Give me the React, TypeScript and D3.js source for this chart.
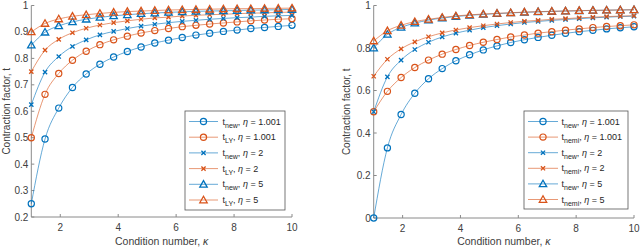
import React from 'react';
import * as d3 from 'd3';

// Condition number samples (marker positions)
const kappa = [1, 1.4737, 1.9474, 2.4211, 2.8947, 3.3684, 3.8421, 4.3158, 4.7895, 5.2632,
  5.7368, 6.2105, 6.6842, 7.1579, 7.6316, 8.1053, 8.5789, 9.0526, 9.5263, 10];

// Left panel
const leftNewEta1 = [0.25, 0.495, 0.612, 0.690, 0.741, 0.778, 0.805, 0.826, 0.843, 0.858, 0.869, 0.879, 0.888, 0.895, 0.902, 0.907, 0.913, 0.917, 0.921, 0.925];
const leftLYEta1 = [0.5, 0.664, 0.743, 0.793, 0.827, 0.852, 0.870, 0.884, 0.896, 0.905, 0.913, 0.920, 0.925, 0.930, 0.934, 0.938, 0.942, 0.945, 0.948, 0.95];
const leftNewEta2 = [0.625, 0.748, 0.807, 0.845, 0.870, 0.889, 0.902, 0.913, 0.922, 0.929, 0.935, 0.940, 0.944, 0.948, 0.951, 0.954, 0.956, 0.959, 0.961, 0.9625];
const leftLYEta2 = [0.75, 0.831, 0.872, 0.897, 0.914, 0.926, 0.935, 0.942, 0.948, 0.953, 0.956, 0.960, 0.963, 0.965, 0.967, 0.969, 0.971, 0.972, 0.974, 0.975];
const leftNewEta5 = [0.85, 0.899, 0.923, 0.938, 0.948, 0.955, 0.961, 0.965, 0.969, 0.9715, 0.974, 0.976, 0.978, 0.979, 0.980, 0.981, 0.9825, 0.983, 0.984, 0.985];
const leftLYEta5 = [0.9, 0.932, 0.949, 0.959, 0.965, 0.970, 0.974, 0.977, 0.979, 0.981, 0.983, 0.984, 0.985, 0.986, 0.987, 0.988, 0.988, 0.989, 0.9895, 0.99];

// Right panel
const rightNewEta1 = [0, 0.33, 0.487, 0.587, 0.655, 0.703, 0.740, 0.768, 0.791, 0.810, 0.826, 0.839, 0.850, 0.860, 0.869, 0.877, 0.883, 0.890, 0.895, 0.9];
const rightNemiEta1 = [0.5, 0.596, 0.661, 0.708, 0.743, 0.771, 0.793, 0.812, 0.827, 0.840, 0.852, 0.861, 0.870, 0.877, 0.884, 0.890, 0.896, 0.901, 0.905, 0.909];
const rightNewEta2 = [0.5, 0.664, 0.743, 0.793, 0.827, 0.852, 0.870, 0.884, 0.896, 0.905, 0.913, 0.920, 0.925, 0.930, 0.934, 0.938, 0.942, 0.945, 0.948, 0.95];
const rightNemiEta2 = [0.667, 0.747, 0.796, 0.829, 0.853, 0.871, 0.885, 0.896, 0.905, 0.913, 0.920, 0.926, 0.930, 0.935, 0.938, 0.942, 0.945, 0.948, 0.950, 0.952];
const rightNewEta5 = [0.8, 0.864, 0.897, 0.917, 0.931, 0.941, 0.948, 0.954, 0.958, 0.962, 0.965, 0.968, 0.970, 0.972, 0.974, 0.975, 0.977, 0.978, 0.979, 0.98];
const rightNemiEta5 = [0.833, 0.881, 0.907, 0.924, 0.935, 0.944, 0.951, 0.956, 0.960, 0.963, 0.966, 0.969, 0.971, 0.973, 0.974, 0.976, 0.977, 0.978, 0.979, 0.980];

const xTicks = [2, 4, 6, 8, 10];
const leftYTicks = [0.2, 0.3, 0.4, 0.5, 0.6, 0.7, 0.8, 0.9, 1];
const rightYTicks = [0, 0.2, 0.4, 0.6, 0.8, 1];
const etaLabels = ['1.001', '1.001', '2', '2', '5', '5'];
const xLabel = 'Condition number, ';
const yLabel = 'Contraction factor, t';

const BLUE = '#0072BD';
const ORANGE = '#D95319';
const FONT = 'Liberation Sans, Arial, Helvetica, sans-serif';

type MarkerType = 'o' | 'x' | '^';
type Series = { values: number[]; color: string; marker: MarkerType; sub: string; eta: string };

function Marker({ type, x, y, color }: { type: MarkerType; x: number; y: number; color: string }) {
  if (type === 'o') return <circle cx={x} cy={y} r={3.1} fill="none" stroke={color} strokeWidth={1.2} />;
  if (type === 'x') {
    const s = 2.1;
    return (
      <path d={`M${x - s},${y - s}L${x + s},${y + s}M${x - s},${y + s}L${x + s},${y - s}`} stroke={color} strokeWidth={1.3} />
    );
  }
  const s = 3.7;
  return (
    <path d={`M${x},${y - s}L${x + s},${y + s * 0.75}L${x - s},${y + s * 0.75}Z`} fill="none" stroke={color} strokeWidth={1.3} strokeLinejoin="miter" />
  );
}

type PanelProps = {
  xRange: [number, number];
  yRange: [number, number];
  yDomain: [number, number];
  yTicks: number[];
  series: Series[];
  legendBox: [number, number, number, number];
  legendLine: [number, number];
  legendText: number;
  legendRow0: number;
  legendRowStep: number;
  yLabelX: number;
};

function Panel(p: PanelProps) {
  const x = d3.scaleLinear().domain([1, 10]).range(p.xRange);
  const y = d3.scaleLinear().domain(p.yDomain).range(p.yRange);
  const line = d3.line<number>().x((_, i) => x(kappa[i])).y((v) => y(v)).curve(d3.curveMonotoneX);
  const axisColor = '#8a8a8a';
  const tickColor = '#404040';
  const [bx, by, bw, bh] = p.legendBox;
  return (
    <g>
      <line x1={p.xRange[0]} x2={p.xRange[1]} y1={p.yRange[0]} y2={p.yRange[0]} stroke={axisColor} strokeWidth={1} />
      <line x1={p.xRange[0]} x2={p.xRange[0]} y1={p.yRange[0]} y2={p.yRange[1]} stroke={axisColor} strokeWidth={1} />
      {xTicks.map((t) => (
        <g key={'xt' + t}>
          <line x1={x(t)} x2={x(t)} y1={p.yRange[0]} y2={p.yRange[0] - 3} stroke={axisColor} />
          <text x={x(t)} y={p.yRange[0] + 14} textAnchor="middle" fontSize={10} fill={tickColor} fontFamily={FONT}>{t}</text>
        </g>
      ))}
      {p.yTicks.map((t) => (
        <g key={'yt' + t}>
          <line x1={p.xRange[0]} x2={p.xRange[0] + 3} y1={y(t)} y2={y(t)} stroke={axisColor} />
          <text x={p.xRange[0] - 3} y={y(t) + 3.5} textAnchor="end" fontSize={10} fill={tickColor} fontFamily={FONT}>{String(t)}</text>
        </g>
      ))}
      <text x={(p.xRange[0] + p.xRange[1]) / 2} y={245} textAnchor="middle" fontSize={10.5} fill={tickColor} fontFamily={FONT}>
        {xLabel}<tspan fontStyle="italic">κ</tspan>
      </text>
      <text transform={`translate(${p.yLabelX},${(p.yRange[0] + p.yRange[1]) / 2}) rotate(-90)`} textAnchor="middle" fontSize={10} fill={tickColor} fontFamily={FONT}>
        {yLabel}
      </text>
      {p.series.map((s, si) => (
        <g key={'s' + si}>
          <path d={line(s.values) || ''} fill="none" stroke={s.color} strokeOpacity={0.6} strokeWidth={1} />
          {s.values.map((v, i) => (
            <Marker key={i} type={s.marker} x={x(kappa[i])} y={y(v)} color={s.color} />
          ))}
        </g>
      ))}
      <rect x={bx} y={by} width={bw} height={bh} fill="white" stroke="#555" strokeWidth={0.8} />
      {p.series.map((s, si) => {
        const ry = p.legendRow0 + si * p.legendRowStep;
        const mx = (p.legendLine[0] + p.legendLine[1]) / 2;
        return (
          <g key={'lg' + si}>
            <line x1={p.legendLine[0]} x2={p.legendLine[1]} y1={ry} y2={ry} stroke={s.color} strokeOpacity={0.6} strokeWidth={1} />
            <Marker type={s.marker} x={mx} y={ry} color={s.color} />
            <text x={p.legendText} y={ry + 3} fontSize={9} fill="#262626" fontFamily={FONT}>
              t<tspan fontSize={7} dy={3}>{s.sub}</tspan><tspan dy={-3}>, </tspan><tspan fontStyle="italic">η</tspan> = {s.eta}
            </text>
          </g>
        );
      })}
    </g>
  );
}

export default function App() {
  const leftSeries: Series[] = [
    { values: leftNewEta1, color: BLUE, marker: 'o', sub: 'new', eta: etaLabels[0] },
    { values: leftLYEta1, color: ORANGE, marker: 'o', sub: 'LY', eta: etaLabels[1] },
    { values: leftNewEta2, color: BLUE, marker: 'x', sub: 'new', eta: etaLabels[2] },
    { values: leftLYEta2, color: ORANGE, marker: 'x', sub: 'LY', eta: etaLabels[3] },
    { values: leftNewEta5, color: BLUE, marker: '^', sub: 'new', eta: etaLabels[4] },
    { values: leftLYEta5, color: ORANGE, marker: '^', sub: 'LY', eta: etaLabels[5] },
  ];
  const rightSeries: Series[] = [
    { values: rightNewEta1, color: BLUE, marker: 'o', sub: 'new', eta: etaLabels[0] },
    { values: rightNemiEta1, color: ORANGE, marker: 'o', sub: 'nemi', eta: etaLabels[1] },
    { values: rightNewEta2, color: BLUE, marker: 'x', sub: 'new', eta: etaLabels[2] },
    { values: rightNemiEta2, color: ORANGE, marker: 'x', sub: 'nemi', eta: etaLabels[3] },
    { values: rightNewEta5, color: BLUE, marker: '^', sub: 'new', eta: etaLabels[4] },
    { values: rightNemiEta5, color: ORANGE, marker: '^', sub: 'nemi', eta: etaLabels[5] },
  ];
  return (
    <svg width={640} height={248} style={{ position: 'absolute', left: 0, top: 0, background: 'white' }}>
      <Panel
        xRange={[31.3, 292]}
        yRange={[217, 5.5]}
        yDomain={[0.2, 1]}
        yTicks={leftYTicks}
        series={leftSeries}
        legendBox={[185, 111, 100, 99]}
        legendLine={[189, 218]}
        legendText={222.5}
        legendRow0={121.5}
        legendRowStep={15.7}
        yLabelX={10}
      />
      <Panel
        xRange={[373.7, 634]}
        yRange={[218, 5.5]}
        yDomain={[0, 1]}
        yTicks={rightYTicks}
        series={rightSeries}
        legendBox={[524, 111, 104, 98]}
        legendLine={[528, 558]}
        legendText={561.5}
        legendRow0={121.5}
        legendRowStep={15.6}
        yLabelX={350}
      />
    </svg>
  );
}
